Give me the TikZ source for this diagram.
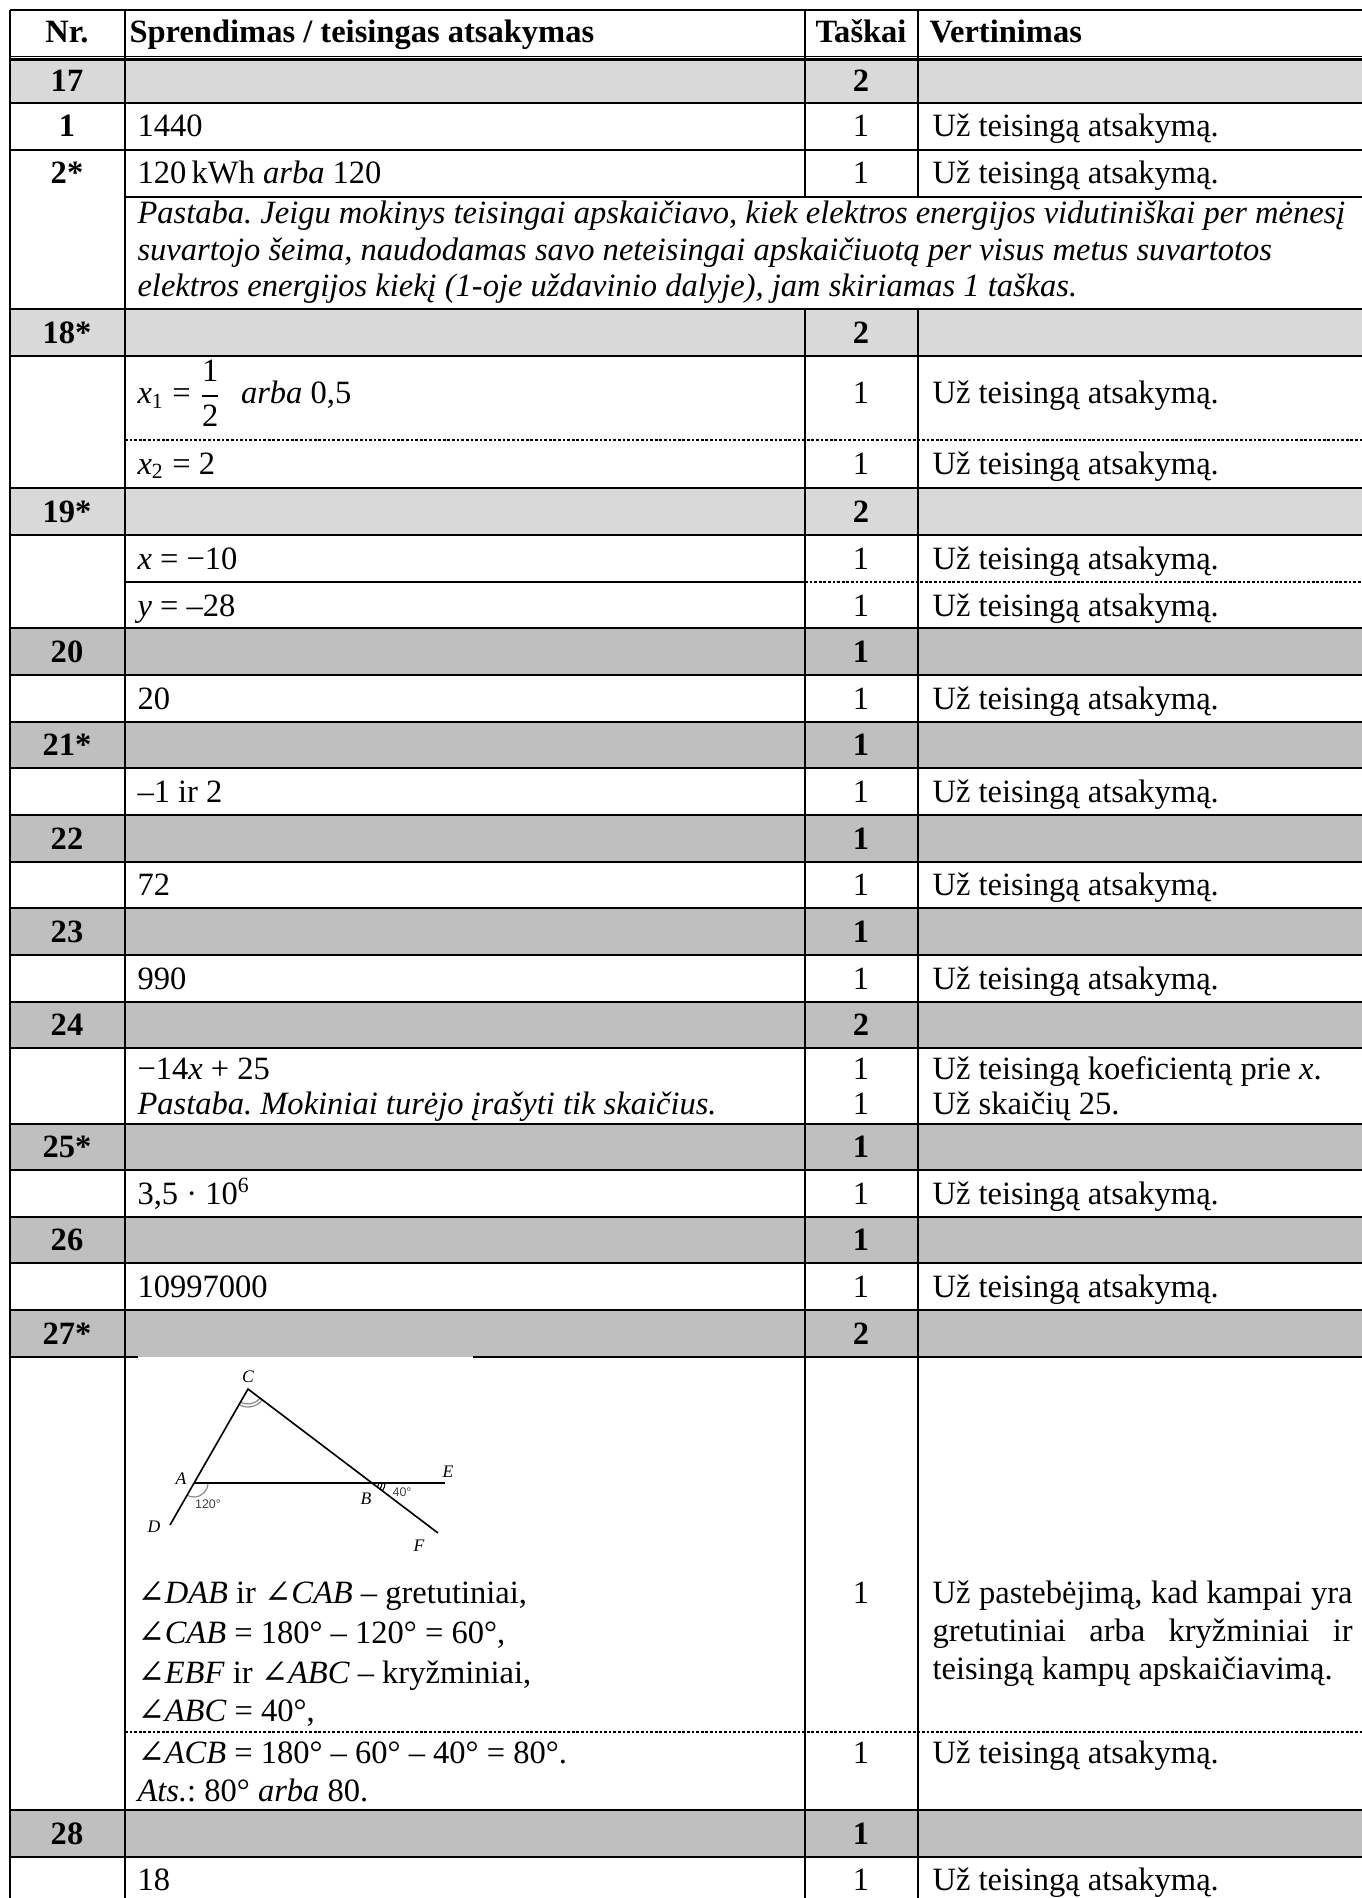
\documentclass[tikz,border=0pt]{standalone}
\usepackage{amsmath}
\usepackage{fontspec}
\setmainfont{Liberation Serif}
\setsansfont{Liberation Sans}
\newfontfamily\angfont[Scale=1.0]{DejaVu Serif}
\newcommand{\angsym}{{\angfont ∠}}

\newlength{\pxu}
\setlength{\pxu}{0.369pt}
\colorlet{lightrow}{black!15}
\colorlet{darkrow}{black!25}

\tikzset{
    rule/.style={line width=0.8pt},
    thinrule/.style={line width=0.45pt},
    dotrule/.style={line width=0.4pt,dash pattern=on 1pt off 0.7pt},
    nrcell/.style={anchor=base,inner sep=0pt,font=\bfseries},
    ptcell/.style={anchor=base,inner sep=0pt},
    txtcell/.style={anchor=base west,inner sep=0pt},
    figline/.style={line width=0.6pt},
    figarc/.style={line width=0.45pt,black!45},
    ptname/.style={inner sep=0pt,font=\fontsize{6.5}{7}\selectfont\itshape},
    degname/.style={inner sep=0pt,text=black!75,font=\fontsize{4.6}{5}\selectfont\sffamily}
}

\begin{document}
\fontsize{12}{14}\selectfont
\frenchspacing
\begin{tikzpicture}[x=\pxu,y=-\pxu]
    \useasboundingbox (0,0) rectangle (1362,1898);
    % shaded rows
    \foreach \ya/\yb in {60/103,309/356,488/535}
        \fill[lightrow] (10,\ya) rectangle (1362,\yb);
    \foreach \ya/\yb in {628/675,722/768,815/862,908/955,1002/1048,1124/1170,1217/1263,1310/1357,1810/1857}
        \fill[darkrow] (10,\ya) rectangle (1362,\yb);
    % horizontal rules
    \draw[thinrule] (10,56.5) -- (1362,56.5);
    \foreach \y in {10,59.5,103,150,309,356,488,535,628,675,722,768,815,862,908,955,1002,1048,1124,1170,1217,1263,1310,1810,1857}
        \draw[rule] (10,\y) -- (1362,\y);
    \draw[rule] (125,197) -- (1362,197);
    \draw[rule] (125,582) -- (805,582);
    \draw[rule] (10,1357) -- (138,1357) (473,1357) -- (1362,1357);
    \draw[dotrule] (125,440) -- (1362,440);
    \draw[dotrule] (805,582) -- (1362,582);
    \draw[dotrule] (125,1732) -- (1362,1732);
    % vertical rules
    \draw[rule] (10,9.6) -- (10,1898);
    \draw[thinrule] (125,10) -- (125,1898);
    \foreach \x in {805,918}
        \draw[thinrule] (\x,10) -- (\x,197) (\x,309) -- (\x,1898);

    % header
    \node[nrcell] (hnr) at (67,43) {Nr.};
    \node[txtcell,font=\bfseries] (hsol) at (129,43) {Sprendimas / teisingas atsakymas};
    \node[nrcell] (hpts) at (861,43) {Taškai};
    \node[txtcell,font=\bfseries] (hev) at (929,43) {Vertinimas};

    % task numbers and points
    \foreach \y/\nr/\pts [count=\i] in {92/17/2,343/18*/2,522/19*/2,662/20/1,755.5/21*/1,849/22/1,942/23/1,1035.5/24/2,1157.5/25*/1,1250.5/26/1,1344/27*/2,1844/28/1}{
        \node[nrcell] (nr\i) at (67,\y) {\nr};
        \node[nrcell] (pts\i) at (861,\y) {\pts};
    }
    \node[nrcell] (sub1) at (67,137) {1};
    \node[nrcell] (sub2) at (67,184) {2*};

    % one point for the right answer
    \foreach \y [count=\i] in {137,184,404,474,569,616,709,802,895.5,989,1204,1297,1763,1890}{
        \node[ptcell] (pt\i) at (861,\y) {1};
        \node[txtcell] (ev\i) at (932,\y) {Už teisingą atsakymą.};
    }

    % short answers
    \foreach \y/\ans [count=\i] in {137/1440,184/{120\,kWh \textit{arba} 120},709/20,802/{–1 ir 2},895.5/72,989/990,1204/{3,5 · 10\textsuperscript{6}},1297/10997000,1890/18}
        \node[txtcell] (ans\i) at (137,\y) {\ans};

    % note to 2*
    \foreach \y/\txt [count=\i] in {224/{Pastaba. Jeigu mokinys teisingai apskaičiavo, kiek elektros energijos vidutiniškai per mėnesį},260.5/{suvartojo šeima, naudodamas savo neteisingai apskaičiuotą per visus metus suvartotos},297/{elektros energijos kiekį (1-oje uždavinio dalyje), jam skiriamas 1 taškas.}}
        \node[txtcell,font=\itshape] (note\i) at (137,\y) {\txt};

    % 18*, 19*
    \node[txtcell] (xone) at (137,404) {\textit{x}$_{\text{1}}$ = $\dfrac{\text{1}}{\text{2}}$\hspace{0.6em}\textit{arba} 0,5};
    \node[txtcell] (xtwo) at (137,474) {\textit{x}$_{\text{2}}$ = 2};
    \node[txtcell] (xval) at (137,569) {\textit{x} = −10};
    \node[txtcell] (yval) at (137,616) {\textit{y} = –28};

    % 24
    \node[txtcell] (ans24a) at (137,1079) {−14\textit{x} + 25};
    \node[txtcell,font=\itshape] (ans24b) at (137,1114) {Pastaba. Mokiniai turėjo įrašyti tik skaičius.};
    \node[ptcell] (pt24a) at (861,1079) {1};
    \node[ptcell] (pt24b) at (861,1114) {1};
    \node[txtcell] (ev24a) at (932,1079) {Už teisingą koeficientą prie \textit{x}.};
    \node[txtcell] (ev24b) at (932,1114) {Už skaičių 25.};

    % 27*
    \coordinate (A) at (194,1483);
    \coordinate (B) at (372,1483);
    \coordinate (C) at (248,1389);
    \coordinate (D) at (170,1525);
    \coordinate (E) at (445,1483);
    \coordinate (F) at (438,1533);
    \draw[figarc] (A) ++(0:14) arc[start angle=0,end angle=120,radius=14];
    \foreach \r in {15,18}
        \draw[figarc] (C) ++(37:\r) arc[start angle=37,end angle=120,radius=\r];
    \foreach \r in {7,10,13}
        \draw[line width=0.4pt] (B) ++(0:\r) arc[start angle=0,end angle=37,radius=\r];
    \draw[figline] (D) -- (C) -- (F);
    \draw[figline] (A) -- (E);
    \node[ptname] (lA) at (181,1479) {A};
    \node[ptname] (lB) at (366,1499) {B};
    \node[ptname] (lC) at (248,1377) {C};
    \node[ptname] (lD) at (154,1527) {D};
    \node[ptname] (lE) at (448,1472) {E};
    \node[ptname] (lF) at (419,1546) {F};
    \node[degname] (dA) at (208,1504) {120°};
    \node[degname] (dB) at (402,1492) {40°};

    \foreach \y/\txt [count=\i] in {1603/{\angsym\textit{DAB} ir \angsym\textit{CAB} – gretutiniai,},1643/{\angsym\textit{CAB} = 180° – 120° = 60°,},1683/{\angsym\textit{EBF} ir \angsym\textit{ABC} – kryžminiai,},1721/{\angsym\textit{ABC} = 40°,}}
        \node[txtcell] (step\i) at (137,\y) {\txt};
    \node[txtcell] (acb) at (137,1763) {\angsym\textit{ACB} = 180° – 60° – 40° = 80°.};
    \node[txtcell] (ats) at (137,1801) {\textit{Ats.}: 80° \textit{arba} 80.};
    \node[ptcell] (pt27a) at (861,1603) {1};
    \node[txtcell] (ev27a) at (932,1603) {\makebox[420\pxu][s]{Už pastebėjimą, kad kampai yra}};
    \node[txtcell] (ev27b) at (932,1641) {\makebox[420\pxu][s]{gretutiniai arba kryžminiai ir}};
    \node[txtcell] (ev27c) at (932,1679) {teisingą kampų apskaičiavimą.};
\end{tikzpicture}
\end{document}
